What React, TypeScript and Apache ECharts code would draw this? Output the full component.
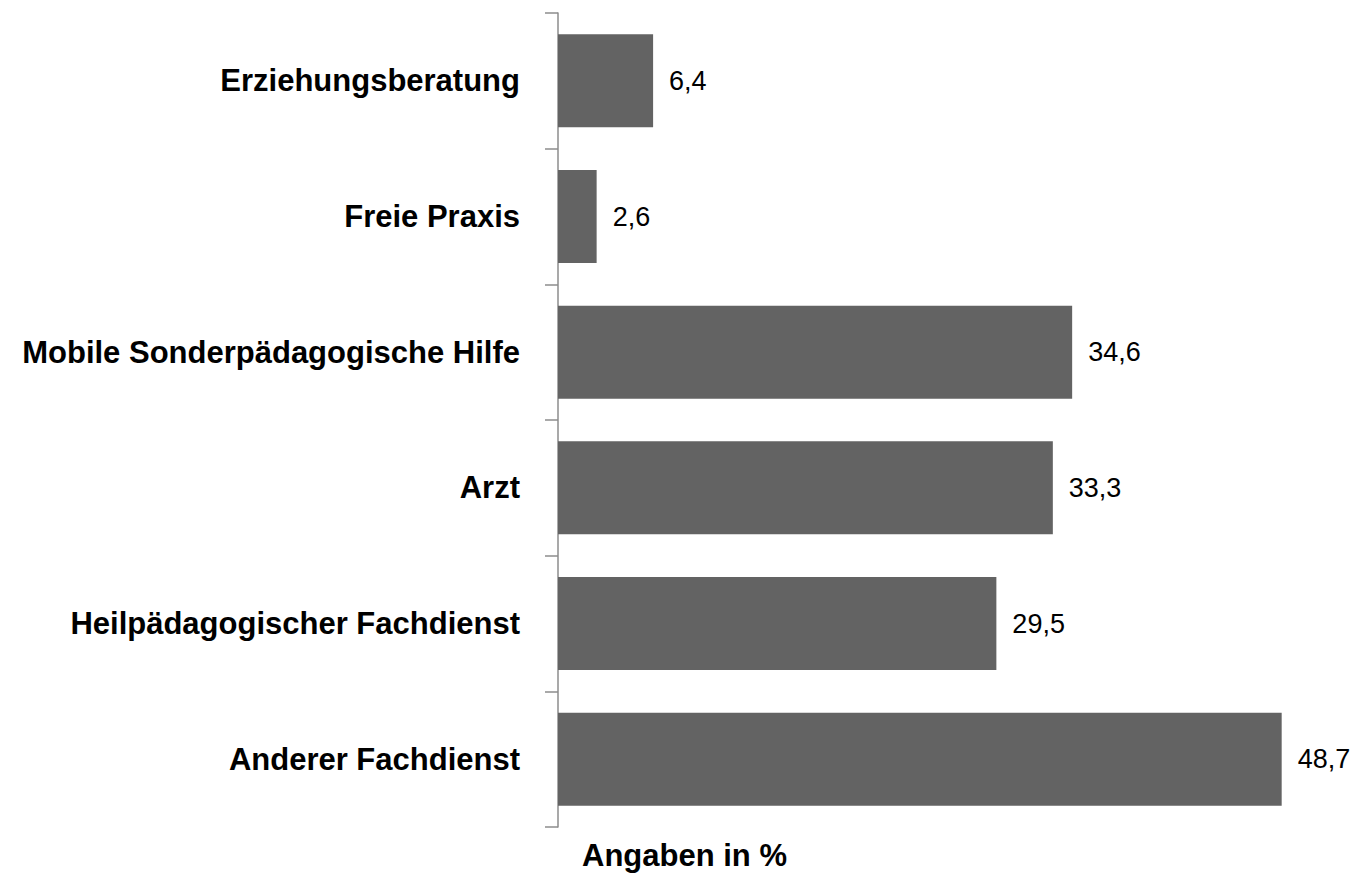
import React, { useEffect, useRef } from "react";
import * as echarts from "echarts";

const categories = [
  "Erziehungsberatung",
  "Freie Praxis",
  "Mobile Sonderpädagogische Hilfe",
  "Arzt",
  "Heilpädagogischer Fachdienst",
  "Anderer Fachdienst",
];
const values = [6.4, 2.6, 34.6, 33.3, 29.5, 48.7];
const axisTitle = "Angaben in %";

const FONT = "Liberation Sans";

export default function App() {
  const ref = useRef<HTMLDivElement>(null);
  useEffect(() => {
    document.body.style.margin = "0";
    const chart = echarts.init(ref.current!, null, { renderer: "svg" });
    chart.setOption({
      animation: false,
      backgroundColor: "#ffffff",
      grid: { left: 558, top: 13, width: 743, height: 814, containLabel: false },
      xAxis: {
        type: "value",
        min: 0,
        max: 50,
        show: false,
      },
      yAxis: {
        type: "category",
        data: categories,
        inverse: true,
        axisLine: { show: true, lineStyle: { color: "#8c8c8c", width: 1.5 } },
        axisTick: { show: true, length: 13, lineStyle: { color: "#8c8c8c", width: 1.5 } },
        axisLabel: {
          margin: 38,
          color: "#000",
          fontFamily: FONT,
          fontWeight: "bold",
          fontSize: 31,
        },
        splitLine: { show: false },
      },
      series: [
        {
          type: "bar",
          data: values,
          barWidth: "68.5%",
          itemStyle: { color: "#636363" },
          label: {
            show: true,
            position: "right",
            distance: 16,
            color: "#000",
            fontFamily: FONT,
            fontSize: 27,
            formatter: (p: any) => p.value.toFixed(1).replace(".", ","),
          },
        },
      ],
      graphic: [
        {
          type: "text",
          x: 582,
          y: 855,
          style: {
            text: axisTitle,
            fill: "#000",
            fontFamily: FONT,
            fontWeight: "bold",
            fontSize: 31,
            verticalAlign: "middle",
            align: "left",
          },
        },
      ],
    });
    return () => chart.dispose();
  }, []);
  return <div ref={ref} style={{ width: 1357, height: 878 }} />;
}
